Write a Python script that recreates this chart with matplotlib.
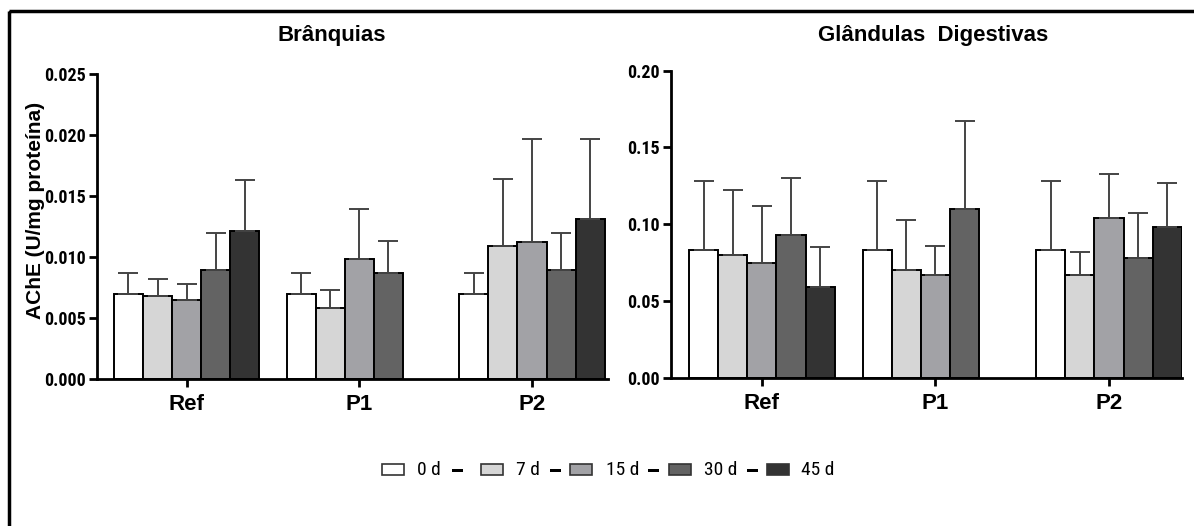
import matplotlib
matplotlib.use('Agg')
import matplotlib.pyplot as plt
import numpy as np
from matplotlib.patches import Rectangle

groups = ['Ref', 'P1', 'P2']
times = ['0 d', '7 d', '15 d', '30 d', '45 d']
colors = ['#ffffff', '#d6d6d6', '#a2a2a6', '#636363', '#333333']
nan = np.nan

# Brânquias: means and upper error (SD) per time, groups Ref/P1/P2
br_0d = [0.0070, 0.0070, 0.0070]
br_7d = [0.0068, 0.0058, 0.0109]
br_15d = [0.0065, 0.0098, 0.0112]
br_30d = [0.0089, 0.0087, 0.0089]
br_45d = [0.0121, nan, 0.0131]
br_err_0d = [0.0017, 0.0017, 0.0017]
br_err_7d = [0.0014, 0.0015, 0.0055]
br_err_15d = [0.0013, 0.0041, 0.0085]
br_err_30d = [0.0031, 0.0026, 0.0031]
br_err_45d = [0.0042, nan, 0.0066]

# Glândulas digestivas
gd_0d = [0.083, 0.083, 0.083]
gd_7d = [0.080, 0.070, 0.067]
gd_15d = [0.075, 0.067, 0.104]
gd_30d = [0.093, 0.110, 0.078]
gd_45d = [0.059, nan, 0.098]
gd_err_0d = [0.045, 0.045, 0.045]
gd_err_7d = [0.042, 0.033, 0.015]
gd_err_15d = [0.037, 0.019, 0.029]
gd_err_30d = [0.037, 0.057, 0.029]
gd_err_45d = [0.026, nan, 0.029]

br_means = [br_0d, br_7d, br_15d, br_30d, br_45d]
br_errs = [br_err_0d, br_err_7d, br_err_15d, br_err_30d, br_err_45d]
gd_means = [gd_0d, gd_7d, gd_15d, gd_30d, gd_45d]
gd_errs = [gd_err_0d, gd_err_7d, gd_err_15d, gd_err_30d, gd_err_45d]

narrow = ['Roboto Condensed', 'DejaVu Sans']
bold = ['Liberation Sans', 'DejaVu Sans']

W, H = 1194, 526
fig = plt.figure(figsize=(W / 100, H / 100), dpi=100)


def draw_panel(rect, means, errs, ylim, ystep, fmt, xlim):
    ax = fig.add_axes(rect)
    x = np.arange(len(groups))
    w = 0.168
    for i in range(len(times)):
        m = np.array(means[i], dtype=float)
        e = np.array(errs[i], dtype=float)
        ax.bar(x + (i - 2) * w, m, w, color=colors[i], edgecolor='black', linewidth=1.4,
               yerr=[np.zeros_like(e), e], capsize=7.5,
               error_kw=dict(ecolor='#444444', elinewidth=1.4, capthick=1.4), zorder=2)
    yt = np.arange(0, ylim[1] + ystep / 2, ystep)
    ax.set_xlim(*xlim)
    ax.set_ylim(*ylim)
    ax.set_yticks(yt)
    ax.set_yticklabels([fmt.format(v) for v in yt], family=narrow, fontweight='bold', fontsize=13)
    ax.set_xticks(x)
    ax.set_xticklabels(groups, family=bold, fontweight='bold', fontsize=16)
    for s in ['top', 'right']:
        ax.spines[s].set_visible(False)
    for s in ['left', 'bottom']:
        ax.spines[s].set_linewidth(2)
    ax.tick_params(axis='both', direction='out', length=6, width=2, pad=2)
    ax.tick_params(axis='x', pad=5)
    return ax


draw_panel([96.7 / W, 1 - 379 / H, (608 - 96.7) / W, 305 / H], br_means, br_errs,
           (0, 0.025), 0.005, '{:.3f}', (-0.52, 2.44))
draw_panel([670.7 / W, 1 - 377.7 / H, (1182 - 670.7) / W, 307 / H], gd_means, gd_errs,
           (0, 0.20), 0.05, '{:.2f}', (-0.525, 2.42))

# overlay in pixel coordinates for frame, titles, y label and legend
ov = fig.add_axes([0, 0, 1, 1], zorder=-1)
ov.set_xlim(0, W)
ov.set_ylim(H, 0)
ov.axis('off')
ov.add_patch(Rectangle((9, 11), W + 20, H + 20, fill=False, edgecolor='black', linewidth=2.5))
ov.text(332, 36, 'Brânquias', ha='center', va='center', family=bold, fontweight='bold', fontsize=16)
ov.text(933, 36, 'Glândulas  Digestivas', ha='center', va='center', family=bold,
        fontweight='bold', fontsize=16)
ov.text(36, 210, 'AChE (U/mg proteína)', ha='center', va='center', rotation=90,
        family=bold, fontweight='bold', fontsize=15)

lg = fig.add_axes([0, 0, 1, 1], zorder=5)
lg.set_xlim(0, W)
lg.set_ylim(H, 0)
lg.axis('off')
patch_x = [382, 481, 570, 669, 767]
label_x = [417, 516, 606, 704, 801]
dash_x = [452, 550, 648, 747]
for i in range(len(times)):
    lg.add_patch(Rectangle((patch_x[i], 464), 22, 11, facecolor=colors[i], edgecolor='#333333',
                           linewidth=1.2))
    lg.text(label_x[i], 470, times[i], ha='left', va='center', family=narrow, fontsize=14)
for dx in dash_x:
    lg.add_patch(Rectangle((dx, 469), 11, 3, facecolor='black', edgecolor='none'))

fig.savefig('out.png', dpi=100)
